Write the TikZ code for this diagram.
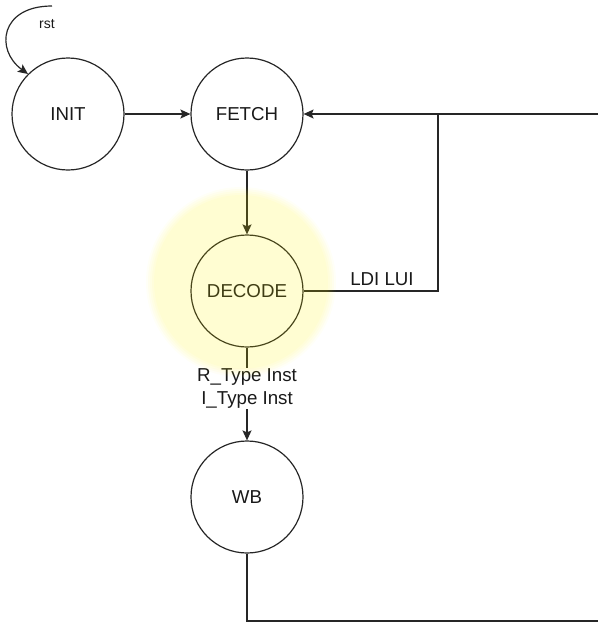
\documentclass[tikz,border=0pt]{standalone}
\usepackage{fontspec}
\setmainfont{Liberation Sans}
\usetikzlibrary{arrows.meta}
\begin{document}
\begin{tikzpicture}[x=1pt,y=-1pt,
  state/.style={circle,draw=black!85,line width=1.2pt,minimum size=112pt,inner sep=0pt,
    font=\fontsize{18.7}{22}\selectfont,text=black!90},
  conn/.style={draw=black!85,line width=1.2pt},
  arr/.style={conn,-{Stealth[length=10pt,width=9pt,inset=2pt]}},
  lbl/.style={font=\fontsize{18.7}{23}\selectfont,text=black!90,align=center,inner sep=1pt}]
\useasboundingbox (0,0) rectangle (598,622);
\node[state] (init) at (68,114) {INIT};
\node[state] (fetch) at (247,114) {FETCH};
\node[state] (decode) at (247,291) {DECODE};
\node[state] (wb) at (247,497) {WB};
\coordinate (tr) at (598,114);
\coordinate (br) at (598,621);
\coordinate (rst0) at (52,6);
\coordinate (vj) at (438,291);
\node[font=\fontsize{14}{16}\selectfont,text=black!90] (rstl) at (47,24) {rst};
% connectors
\draw[arr] (rst0) .. controls (0,6) and (-5,50) .. (init.135);
\draw[arr] (init) -- (fetch);
\draw[arr] (tr) -- (fetch);
\draw[arr] (fetch) -- (decode);
\draw[conn] (decode) -- (vj) -- (vj |- fetch.east);
\node[lbl,anchor=south] (ldi) at (382,287) {LDI LUI};
\draw[arr] (decode) -- (wb);
\node[lbl,fill=white] (type) at (247,388.5) {R\_Type Inst\\I\_Type Inst};
\draw[conn] (wb.south) |- (br);
% highlight glow
\foreach \r/\o in {95/0.03,93/0.04,91/0.04,89/0.04,87/0.04}{
  \fill[yellow,opacity=\o] (241,282) circle (\r);
}
\end{tikzpicture}
\end{document}
